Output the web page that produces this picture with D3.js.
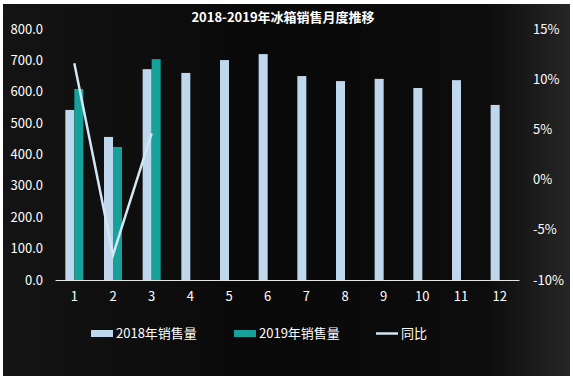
<!DOCTYPE html>
<html lang="zh">
<head>
<meta charset="utf-8">
<title>2018-2019年冰箱销售月度推移</title>
<script src="https://d3js.org/d3.v7.min.js"></script>
<style>
body { margin: 0; background: #fff; }
text { font-family: "Noto Sans CJK SC", "Noto Sans", sans-serif; fill: #fff; }
</style>
</head>
<body>
<div id="chart"></div>
<script>
const months = ["1","2","3","4","5","6","7","8","9","10","11","12"];
const sales2018 = [542, 456, 672, 660, 701, 720, 650, 634, 641, 612, 637, 558];
const sales2019 = [609, 424, 704];
const yoy = [11.6, -7.5, 4.6];
const leftTicks = [0, 100, 200, 300, 400, 500, 600, 700, 800];
const rightTicks = [-10, -5, 0, 5, 10, 15];

const width = 573, height = 379;
const svg = d3.select("#chart").append("svg")
    .attr("width", width)
    .attr("height", height);

// background with soft gradient
const defs = svg.append("defs");
const grad = defs.append("linearGradient").attr("id", "bg").attr("x1", 0).attr("x2", 1);
grad.append("stop").attr("offset", "0%").attr("stop-color", "#141414");
grad.append("stop").attr("offset", "45%").attr("stop-color", "#0a0909");
grad.append("stop").attr("offset", "85%").attr("stop-color", "#0d0c0d");
grad.append("stop").attr("offset", "100%").attr("stop-color", "#262626");
svg.append("rect").attr("x", 3).attr("y", 4).attr("width", 567).attr("height", 372).attr("fill", "url(#bg)");

const x = d3.scaleBand().domain(months).range([55, 519]);
const y = d3.scaleLinear().domain([0, 800]).range([280, 29]);
const y2 = d3.scaleLinear().domain([-10, 15]).range([280, 29]);
const barW = 9;

// title
svg.append("text")
    .attr("x", 283).attr("y", 22)
    .attr("text-anchor", "middle")
    .attr("font-size", 13).attr("font-weight", "bold")
    .text("2018-2019年冰箱销售月度推移");

// left axis labels
svg.append("g").selectAll("text").data(leftTicks).join("text")
    .attr("x", 43).attr("y", d => y(d)).attr("dy", "0.35em")
    .attr("text-anchor", "end").attr("font-size", 13)
    .text(d => d3.format(".1f")(d));

// right axis labels
svg.append("g").selectAll("text").data(rightTicks).join("text")
    .attr("x", 533).attr("y", d => y2(d)).attr("dy", "0.35em")
    .attr("font-size", 13)
    .text(d => d + "%");

// bars
svg.append("g").selectAll("rect").data(sales2018).join("rect")
    .attr("x", (d, i) => x(months[i]) + x.bandwidth() / 2 - barW)
    .attr("y", d => y(d))
    .attr("width", barW)
    .attr("height", d => y(0) - y(d))
    .attr("fill", "#bfd7ec");

svg.append("g").selectAll("rect").data(sales2019).join("rect")
    .attr("x", (d, i) => x(months[i]) + x.bandwidth() / 2)
    .attr("y", d => y(d))
    .attr("width", barW)
    .attr("height", d => y(0) - y(d))
    .attr("fill", "#16a19a");

// x axis
const xAxis = svg.append("g")
    .attr("transform", "translate(0,280)")
    .call(d3.axisBottom(x).tickSize(0).tickPadding(12));
xAxis.select(".domain").attr("stroke", "#e6e6e6").attr("stroke-width", 1.2);
xAxis.selectAll("text").attr("font-size", 13).attr("fill", "#fff")
    .attr("font-family", "\"Noto Sans CJK SC\", sans-serif");

// yoy line
const line = d3.line()
    .x((d, i) => x(months[i]) + x.bandwidth() / 2)
    .y(d => y2(d));
svg.append("path").datum(yoy)
    .attr("d", line)
    .attr("fill", "none")
    .attr("stroke", "#d3e6f3")
    .attr("stroke-width", 2.5);

// legend
const legend = svg.append("g").attr("font-size", 13);
const items = [
    {label: "2018年销售量", x: 91, type: "bar", color: "#bfd7ec"},
    {label: "2019年销售量", x: 234, type: "bar", color: "#16a19a"},
    {label: "同比", x: 376, type: "line", color: "#d3e6f3"}
];
items.forEach(it => {
    if (it.type === "bar") {
        legend.append("rect").attr("x", it.x).attr("y", 330).attr("width", 22).attr("height", 7).attr("fill", it.color);
    } else {
        legend.append("line").attr("x1", it.x).attr("x2", it.x + 22).attr("y1", 333.5).attr("y2", 333.5)
            .attr("stroke", it.color).attr("stroke-width", 2.5);
    }
    legend.append("text").attr("x", it.x + 25).attr("y", 333.5).attr("dy", "0.35em").text(it.label);
});
</script>
</body>
</html>
